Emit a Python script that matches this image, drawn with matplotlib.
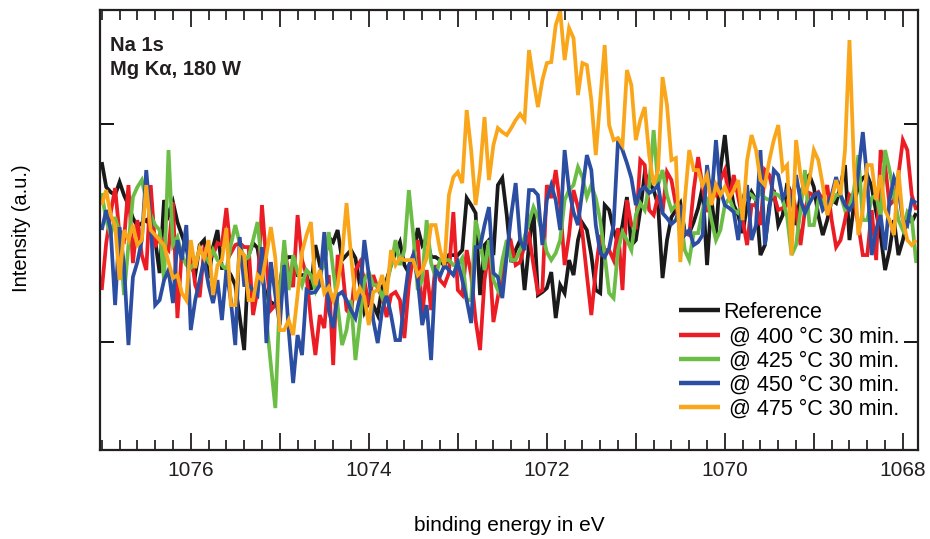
import numpy as np
import matplotlib
matplotlib.use("Agg")
import matplotlib.pyplot as plt
from matplotlib.ticker import MultipleLocator

# Na 1s region, binding energy grid (eV), 0.05 eV step
energy_start = 1077.00
energy_step = 0.05
n_points = 184

# Intensities (a.u.)
reference = [
    288, 263, 258, 255, 268, 255, 245, 232, 224, 227,
    230, 224, 210, 177, 250, 235, 248, 228, 215, 202,
    185, 175, 205, 210, 172, 203, 220, 182, 182, 175,
    165, 133, 100, 195, 207, 202, 173, 153, 148, 145,
    165, 190, 193, 193, 175, 175, 175, 160, 205, 185,
    188, 213, 208, 220, 190, 195, 200, 192, 165, 138,
    148, 145, 135, 163, 170, 185, 198, 208, 185, 177,
    192, 222, 205, 212, 193, 193, 190, 184, 195, 195,
    195, 200, 252, 245, 237, 155, 205, 210, 195, 265,
    272, 235, 188, 200, 210, 160, 205, 240, 155, 158,
    162, 178, 132, 165, 157, 190, 175, 210, 227, 220,
    195, 160, 157, 245, 240, 220, 207, 225, 253, 205,
    210, 240, 277, 268, 260, 245, 172, 210, 233, 240,
    247, 218, 217, 228, 242, 263, 185, 250, 215, 280,
    315, 270, 245, 235, 217, 245, 258, 250, 195, 205,
    245, 260, 225, 235, 267, 255, 225, 255, 270, 275,
    263, 235, 215, 230, 250, 247, 265, 285, 210, 245,
    265, 272, 275, 263, 238, 215, 180, 200, 230, 195,
    210, 232, 228, 237,
]

t400 = [
    160, 207, 237, 262, 215, 210, 265, 187, 230, 195,
    180, 265, 203, 215, 205, 200, 248, 132, 200, 207,
    200, 165, 153, 200, 192, 195, 207, 205, 242, 197,
    205, 207, 203, 203, 135, 160, 245, 187, 140, 145,
    160, 202, 177, 163, 235, 190, 175, 130, 95, 135,
    122, 175, 85, 195, 185, 140, 135, 180, 188, 170,
    145, 175, 162, 153, 133, 155, 158, 150, 112, 165,
    195, 210, 133, 180, 140, 185, 170, 165, 177, 238,
    160, 155, 200, 175, 130, 100, 170, 200, 128, 153,
    178, 198, 207, 185, 188, 205, 215, 185, 157, 160,
    265, 252, 280, 245, 185, 215, 260, 243, 217, 175,
    135, 180, 215, 200, 200, 190, 222, 160, 250, 225,
    223, 290, 285, 240, 235, 255, 238, 278, 270, 245,
    222, 217, 215, 260, 293, 263, 238, 260, 255, 270,
    280, 250, 275, 253, 230, 205, 245, 245, 225, 280,
    275, 255, 240, 242, 245, 260, 240, 205, 240, 257,
    255, 258, 250, 265, 230, 203, 210, 230, 255, 250,
    225, 195, 195, 240, 190, 300, 285, 245, 250, 275,
    310, 300, 255, 240,
]

t425 = [
    257, 230, 215, 233, 217, 155, 205, 253, 263, 270,
    250, 235, 225, 220, 170, 300, 205, 213, 195, 185,
    182, 188, 200, 195, 188, 200, 190, 185, 180, 205,
    225, 207, 190, 193, 210, 228, 185, 130, 85, 42,
    153, 210, 160, 195, 178, 165, 180, 175, 160, 177,
    185, 218, 180, 145, 105, 120, 150, 90, 130, 170,
    178, 165, 165, 153, 165, 185, 210, 185, 200, 260,
    215, 160, 170, 230, 187, 173, 190, 190, 190, 185,
    185, 192, 150, 150, 230, 210, 180, 210, 170, 160,
    190, 210, 190, 190, 200, 213, 228, 243, 233, 217,
    198, 190, 197, 210, 250, 260, 265, 283, 273, 253,
    265, 252, 230, 195, 157, 152, 200, 218, 210, 200,
    235, 247, 240, 265, 320, 265, 280, 255, 240, 245,
    235, 200, 190, 217, 217, 240, 253, 230, 210, 220,
    245, 252, 240, 237, 247, 258, 255, 250, 258, 252,
    250, 257, 255, 250, 233, 195, 205, 240, 280, 225,
    225, 250, 250, 240, 247, 255, 255, 240, 243, 260,
    295, 230, 230, 252, 255, 233, 300, 280, 255, 230,
    220, 238, 232, 187,
]

t450 = [
    220, 240, 220, 145, 223, 185, 105, 173, 188, 210,
    280, 227, 145, 150, 170, 180, 147, 210, 190, 225,
    120, 150, 170, 190, 165, 147, 170, 130, 180, 150,
    105, 213, 165, 165, 160, 155, 203, 107, 188, 155,
    125, 185, 120, 67, 115, 95, 160, 157, 158, 165,
    218, 140, 122, 155, 158, 150, 140, 132, 153, 210,
    175, 130, 107, 140, 155, 135, 110, 110, 150, 185,
    195, 170, 125, 145, 90, 180, 174, 185, 180, 175,
    188, 170, 150, 127, 203, 203, 225, 243, 177, 173,
    152, 195, 235, 267, 210, 200, 260, 260, 255, 205,
    250, 265, 250, 220, 300, 260, 238, 225, 260, 295,
    280, 225, 197, 193, 202, 225, 310, 300, 287, 272,
    245, 260, 263, 257, 260, 265, 237, 232, 226, 230,
    245, 215, 220, 205, 208, 215, 285, 250, 310, 260,
    245, 242, 238, 210, 250, 265, 210, 225, 300, 205,
    240, 280, 275, 252, 260, 245, 275, 250, 237, 247,
    255, 257, 240, 245, 255, 273, 255, 245, 240, 247,
    278, 318, 270, 195, 220, 235, 200, 250, 272, 260,
    230, 225, 250, 247,
]

t475 = [
    245, 260, 235, 225, 170, 220, 210, 225, 205, 210,
    265, 220, 215, 210, 205, 188, 172, 175, 157, 150,
    210, 182, 202, 192, 210, 155, 185, 190, 222, 145,
    145, 200, 195, 150, 150, 175, 170, 195, 223, 192,
    120, 120, 130, 115, 155, 198, 215, 228, 165, 180,
    157, 163, 150, 165, 195, 247, 195, 150, 162, 153,
    125, 158, 160, 175, 155, 200, 185, 192, 190, 190,
    190, 175, 180, 192, 225, 225, 200, 185, 255, 273,
    278, 267, 340, 300, 245, 280, 333, 270, 305, 322,
    318, 315, 322, 330, 336, 330, 400, 370, 343, 370,
    387, 388, 425, 439, 390, 422, 412, 355, 387, 385,
    350, 295, 350, 405, 325, 310, 312, 305, 380, 365,
    310, 330, 343, 295, 265, 280, 373, 345, 290, 292,
    188, 250, 300, 280, 280, 265, 275, 245, 265, 255,
    263, 252, 260, 270, 230, 290, 315, 300, 270, 265,
    290, 310, 325, 280, 285, 195, 310, 275, 255, 270,
    300, 290, 265, 235, 250, 270, 255, 300, 410, 285,
    215, 240, 285, 285, 250, 275, 240, 230, 215, 280,
    230, 210, 205, 210,
]

labels = ["Reference", " @ 400 °C 30 min.", " @ 425 °C 30 min.",
          " @ 450 °C 30 min.", " @ 475 °C 30 min."]
colors = ["#1a1a1a", "#ec1c24", "#6cbd45", "#2b4ea2", "#faa61a"]
series = [reference, t400, t425, t450, t475]

energy = energy_start - energy_step * np.arange(n_points)

plt.rcParams["font.family"] = ["Liberation Sans", "DejaVu Sans"]

fig = plt.figure(figsize=(9.30, 5.39), dpi=100)
ax = fig.add_axes([0.1075, 0.165, 0.8796, 0.8163])

lines = []
for vals, col, lab in zip(series, colors, labels):
    ln, = ax.plot(energy, vals, color=col, lw=2.7, label=lab,
                  solid_joinstyle="miter", solid_capstyle="butt")
    lines.append(ln)

ax.set_xlim(1077.02, 1067.83)
ax.set_ylim(0, 440)

ax.xaxis.set_minor_locator(MultipleLocator(0.2))
ax.set_xticks([1076, 1075, 1074, 1073, 1072, 1071, 1070, 1069, 1068])
ax.set_xticklabels(["1076", "", "1074", "", "1072", "", "1070", "", "1068"],
                   fontsize=15)
ax.set_yticks([108, 326])
ax.set_yticklabels([])
ax.tick_params(axis="x", which="major", direction="in", length=12, width=1.3,
               top=True, bottom=True, pad=8, colors="#231f20")
ax.tick_params(axis="x", which="minor", direction="in", length=7, width=1.1,
               top=True, bottom=True)
ax.tick_params(axis="y", which="major", direction="in", length=10, width=1.3,
               left=True, right=True)
for sp in ax.spines.values():
    sp.set_linewidth(1.6)
    sp.set_color("#231f20")

ax.set_xlabel("binding energy in eV", fontsize=15, labelpad=26)
ax.set_ylabel("Intensity (a.u.)", fontsize=14.5, va="center")
ax.yaxis.set_label_coords(-0.0954, 0.505)

ax.text(0.012, 0.92, "Na 1s", transform=ax.transAxes, fontsize=14.5,
        fontweight="bold", color="#231f20", va="center")
ax.text(0.012, 0.865, "Mg K\u03b1, 180 W", transform=ax.transAxes,
        fontsize=14.5, fontweight="bold", color="#231f20", va="center")

leg = ax.legend(handles=lines, loc="upper left",
                bbox_to_anchor=(679 / 930, 1 - 302 / 539),
                bbox_transform=fig.transFigure, frameon=False,
                fontsize=15.5, handlelength=1.9, handletextpad=0.14,
                labelspacing=0.15, borderpad=0, borderaxespad=0)
for h in leg.legend_handles:
    h.set_linewidth(3.2)

fig.savefig("out.png", dpi=100)
